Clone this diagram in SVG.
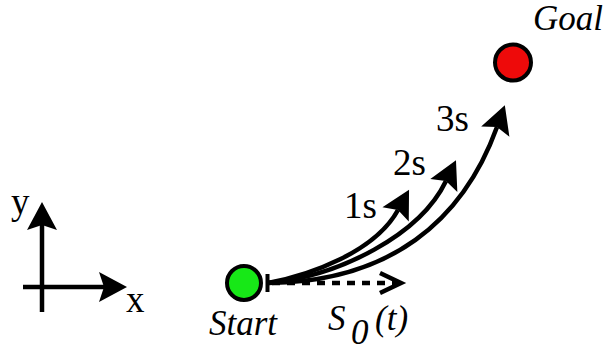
<svg xmlns="http://www.w3.org/2000/svg" width="609" height="350" viewBox="0 0 609 350">
<style>
.ln{fill:none;stroke:#000;stroke-width:4.5}
.tx{font-family:"Liberation Serif","Times New Roman",serif;font-size:35px;fill:#000}
.nm{font-size:37px}
.it{font-style:italic}
</style>
<defs>
<marker id="ah" markerUnits="userSpaceOnUse" markerWidth="40" markerHeight="40" refX="0" refY="0" orient="auto" overflow="visible">
<path d="M23,0 L-5,-15 L0,0 L-5,15 Z" fill="#000"/>
</marker>
</defs>
<rect width="609" height="350" fill="#fff"/>
<g id="axes">
<line class="ln" x1="42" y1="312" x2="42" y2="225" marker-end="url(#ah)"/>
<line class="ln" x1="23" y1="287" x2="104" y2="287" marker-end="url(#ah)"/>
<text class="tx nm" x="11" y="214">y</text>
<text class="tx nm" x="126" y="312">x</text>
</g>
<g id="connectors">
<line class="ln" x1="272" y1="283" x2="400" y2="283" stroke-dasharray="8,7"/>
<polyline class="ln" points="380,273 401,283 380,293"/>
<path class="ln" d="M268,283 C310,275 375,252 398,210" marker-end="url(#ah)"/>
<path class="ln" d="M268,283 C340,276 420,235 446,181" marker-end="url(#ah)"/>
<path class="ln" d="M268,283 C390,282 463,221 497,127" marker-end="url(#ah)"/>
<line x1="267.5" y1="274" x2="267.5" y2="292" stroke="#000" stroke-width="4"/>
</g>
<g id="start">
<circle cx="244" cy="283" r="17" fill="#17e817" stroke="#000" stroke-width="4"/>
<text class="tx it" x="209" y="335">Start</text>
</g>
<g id="goal">
<circle cx="513" cy="62.5" r="18" fill="#ee0a0a" stroke="#000" stroke-width="4"/>
<text class="tx it" x="533" y="30">Goal</text>
</g>
<g id="labels">
<text class="tx nm" x="344" y="218">1s</text>
<text class="tx nm" x="393" y="175">2s</text>
<text class="tx nm" x="436" y="131">3s</text>
<text class="tx it" x="328" y="330">S<tspan x="351" dy="14">0</tspan><tspan x="375" dy="-14">(t)</tspan></text>
</g>
</svg>
